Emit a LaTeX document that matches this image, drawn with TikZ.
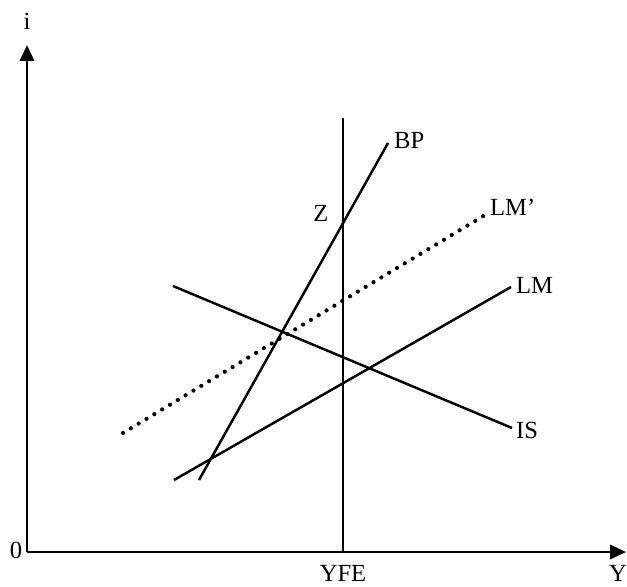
\documentclass[tikz,border=0pt]{standalone}
\usepackage{fontspec}
\setmainfont{Liberation Serif}
\usetikzlibrary{arrows.meta,positioning,calc}

\begin{document}
\begin{tikzpicture}[
    axis/.style={line width=1.6pt, -{Triangle[length=9pt,width=8pt]}},
    curve/.style={line width=1.4pt},
    dotcurve/.style={line width=2.4pt, line cap=round, dash pattern=on 0pt off 5.2pt},
    lbl/.style={font=\fontsize{14}{16}\selectfont, inner sep=1pt}
]
    \useasboundingbox (0,0) rectangle (12.54,11.72);

    % axes
    \coordinate (O) at (0.54,0.68);
    \coordinate (itip) at (0.54,10.82);
    \coordinate (ytip) at (12.52,0.68);
    \draw[axis] (O) -- (itip);
    \draw[axis] (O) -- (ytip);
    \node[lbl] (ilab) at (0.54,11.30) {i};
    \node[lbl] (olab) at (0.32,0.72) {0};
    \node[lbl] (ylab) at (12.36,0.25) {Y};

    % full employment line
    \coordinate (fe1) at (6.86,0.68);
    \coordinate (fe2) at (6.86,9.36);
    \draw[curve] (fe1) -- (fe2);
    \node[lbl] (yfelab) at (6.86,0.25) {YFE};

    % curves
    \coordinate (bp1) at (3.98,2.12);
    \coordinate (bp2) at (7.76,8.86);
    \coordinate (lmp1) at (2.46,3.06);
    \coordinate (lmp2) at (9.70,7.42);
    \coordinate (lm1) at (3.48,2.12);
    \coordinate (lm2) at (10.22,5.98);
    \coordinate (is1) at (3.46,6.00);
    \coordinate (is2) at (10.24,3.16);

    \draw[curve] (bp1) -- (bp2);
    \draw[dotcurve] (lmp1) -- (lmp2);
    \draw[curve] (lm1) -- (lm2);
    \draw[curve] (is1) -- (is2);

    \node[lbl, anchor=west] (bplab) at (7.84,8.92) {BP};
    \node[lbl, anchor=west] (lmplab) at (9.76,7.58) {LM'};
    \node[lbl, anchor=west] (lmlab) at (10.28,6.02) {LM};
    \node[lbl, anchor=west] (islab) at (10.28,3.12) {IS};
    \node[lbl] (zlab) at (6.42,7.46) {Z};
\end{tikzpicture}
\end{document}
